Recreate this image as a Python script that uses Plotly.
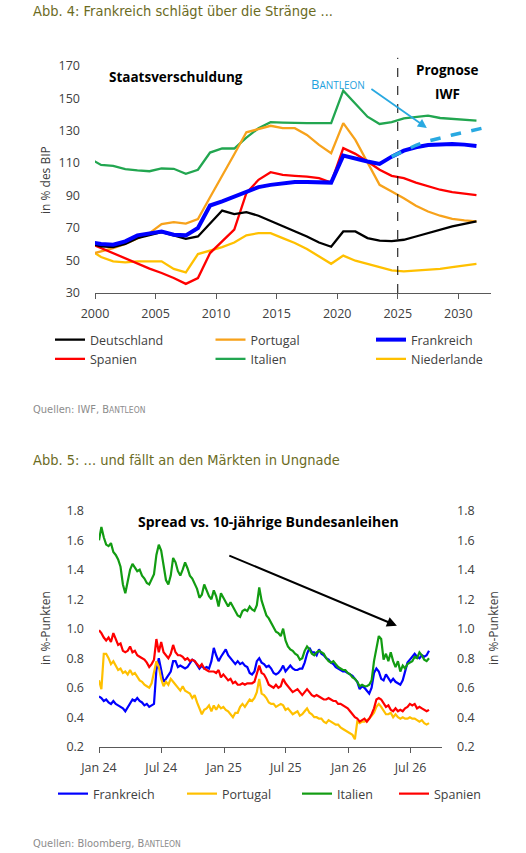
import plotly.graph_objects as go
import pandas as pd

# Seitengroesse in Pixeln, damit Texte und Achsen pixelgenau sitzen
B, H = 526, 853


def px(x):
    return x / B


def py(y):
    return 1 - y / H


FONT = "Open Sans"
HEAD = "Liberation Sans Narrow, DejaVu Sans Condensed, Open Sans"
GRAU = "#404040"

# ---------------- Abb. 4: Staatsverschuldung in % des BIP ----------------
jahre = list(range(1999, 2032))
deutschland = [60.7, 58.7, 58.3, 60.2, 63.8, 65.5, 67.5, 65.5, 63.4, 64.8, 73.1, 80.8, 78.6, 79.8,
               77.6, 74.5, 71.0, 68.0, 64.8, 61.1, 58.5, 67.9, 67.9, 63.8, 62.2, 62.0, 62.8, 64.8,
               66.9, 69.0, 71.0, 72.6, 74.1]
portugal = [53.6, 55.6, 57.7, 60.2, 63.8, 66.9, 72.5, 73.7, 72.7, 75.5, 89.0, 102.0, 115.5, 129.0,
            131.0, 133.0, 131.5, 131.5, 127.4, 121.2, 116.1, 134.6, 124.3, 110.0, 96.6, 92.5, 88.4,
            83.7, 80.2, 77.6, 75.7, 74.7, 74.1]
frankreich = [61.4, 60.2, 59.7, 61.8, 65.5, 66.9, 67.9, 65.9, 65.5, 70.0, 83.9, 86.4, 89.4, 92.5,
              95.2, 96.6, 97.7, 98.4, 98.4, 98.4, 98.0, 114.6, 112.6, 111.0, 109.5, 114.0, 117.7,
              119.8, 121.2, 121.8, 121.8, 121.4, 120.5]
spanien = [60.9, 57.7, 54.6, 51.1, 48.0, 45.0, 42.3, 39.2, 35.6, 39.2, 54.6, 61.8, 69.0, 91.5,
           99.7, 104.4, 102.8, 102.2, 101.7, 100.7, 98.0, 119.2, 115.7, 111.0, 105.9, 102.2, 100.7,
           98.0, 95.6, 93.6, 92.1, 91.1, 90.3]
italien = [113.1, 108.9, 108.3, 106.3, 105.5, 105.0, 106.7, 106.5, 103.4, 105.9, 116.5, 119.0,
           119.0, 125.7, 131.5, 135.2, 135.0, 134.6, 134.6, 134.6, 134.6, 154.6, 146.9, 138.6,
           134.1, 135.2, 137.6, 138.6, 139.2, 137.8, 137.2, 136.6, 136.2]
niederlande = [57.0, 52.2, 49.5, 48.9, 49.5, 49.7, 49.5, 44.8, 42.7, 54.0, 56.0, 58.3, 61.1, 65.5,
               66.9, 66.9, 63.8, 60.8, 57.1, 52.5, 48.0, 53.0, 49.9, 48.0, 46.0, 43.9, 43.3, 43.9,
               44.4, 44.9, 46.0, 47.0, 48.0]
# Bantleon-Prognose Frankreich
bantleon_jahre = list(range(2024, 2033))
bantleon_frankreich = [114.0, 117.8, 121.0, 123.6, 125.6, 127.3, 129.0, 130.7, 132.4]

# ---------------- Abb. 5: Spread vs. 10-jaehrige Bundesanleihen (Wochenwerte) ----------------
spread_fr = [0.54, 0.53, 0.51, 0.52, 0.50, 0.49, 0.51, 0.49, 0.48, 0.47, 0.46, 0.44, 0.47, 0.49,
             0.52, 0.51, 0.53, 0.51, 0.50, 0.48, 0.49, 0.47, 0.48, 0.49, 0.72, 0.80, 0.72, 0.64,
             0.66, 0.69, 0.71, 0.78, 0.78, 0.74, 0.75, 0.74, 0.73, 0.74, 0.77, 0.79, 0.78, 0.75,
             0.73, 0.75, 0.73, 0.74, 0.73, 0.78,
             0.87, 0.82, 0.78, 0.81, 0.84, 0.86, 0.82, 0.80, 0.78, 0.76, 0.78, 0.76, 0.77, 0.75,
             0.74, 0.70, 0.69, 0.71, 0.78, 0.80, 0.77, 0.76, 0.74, 0.75, 0.73, 0.70, 0.69, 0.70,
             0.72, 0.75, 0.71, 0.73, 0.75, 0.73, 0.72, 0.72, 0.73, 0.73, 0.77, 0.83, 0.87, 0.84,
             0.84, 0.82, 0.86, 0.83, 0.82, 0.80,
             0.79, 0.77, 0.76, 0.74, 0.73, 0.72, 0.71, 0.71, 0.70, 0.69, 0.68, 0.66, 0.64, 0.59,
             0.61, 0.60, 0.58, 0.56, 0.60, 0.70, 0.73, 0.71, 0.66, 0.65, 0.69, 0.66, 0.64, 0.66,
             0.64, 0.63, 0.62, 0.65, 0.72, 0.77, 0.79, 0.81, 0.83, 0.81, 0.80, 0.82, 0.81, 0.82,
             0.85]
spread_pt = [0.65, 0.59, 0.83, 0.83, 0.80, 0.76, 0.78, 0.75, 0.72, 0.73, 0.70, 0.71, 0.69, 0.72,
             0.69, 0.70, 0.67, 0.65, 0.64, 0.62, 0.61, 0.60, 0.63, 0.71, 0.78, 0.74, 0.66, 0.61,
             0.64, 0.62, 0.66, 0.64, 0.62, 0.60, 0.58, 0.61, 0.58, 0.57, 0.56, 0.53, 0.55, 0.50,
             0.46, 0.42, 0.45, 0.46, 0.48, 0.44,
             0.48, 0.45, 0.48, 0.46, 0.47, 0.45, 0.44, 0.42, 0.40, 0.43, 0.43, 0.47, 0.49, 0.47,
             0.50, 0.52, 0.51, 0.53, 0.57, 0.66, 0.56, 0.55, 0.53, 0.50, 0.49, 0.49, 0.47, 0.48,
             0.49, 0.48, 0.45, 0.46, 0.44, 0.42, 0.43, 0.44, 0.41, 0.42, 0.44, 0.46, 0.43, 0.42,
             0.40, 0.40, 0.39, 0.39, 0.37, 0.36,
             0.38, 0.37, 0.36, 0.35, 0.35, 0.33, 0.32, 0.31, 0.30, 0.29, 0.28, 0.25, 0.37, 0.36,
             0.37, 0.37, 0.38, 0.39, 0.41, 0.43, 0.47, 0.49, 0.47, 0.44, 0.42, 0.42, 0.43, 0.40,
             0.42, 0.40, 0.39, 0.40, 0.39, 0.39, 0.40, 0.39, 0.39, 0.38, 0.37, 0.38, 0.36, 0.35,
             0.36]
spread_it = [1.60, 1.69, 1.62, 1.57, 1.56, 1.58, 1.52, 1.50, 1.47, 1.42, 1.30, 1.24, 1.32, 1.40,
             1.44, 1.41, 1.39, 1.40, 1.36, 1.34, 1.31, 1.30, 1.33, 1.37, 1.50, 1.57, 1.53, 1.42,
             1.33, 1.30, 1.36, 1.48, 1.45, 1.39, 1.36, 1.40, 1.45, 1.41, 1.36, 1.34, 1.31, 1.27,
             1.21, 1.23, 1.30, 1.26, 1.22, 1.20,
             1.26, 1.22, 1.15, 1.24, 1.21, 1.17, 1.15, 1.18, 1.15, 1.12, 1.09, 1.08, 1.12, 1.13,
             1.12, 1.15, 1.13, 1.12, 1.16, 1.28, 1.19, 1.14, 1.09, 1.07, 1.04, 1.00, 0.98, 0.97,
             0.95, 1.00, 0.92, 0.88, 0.86, 0.85, 0.83, 0.82, 0.79, 0.80, 0.85, 0.88, 0.86, 0.83,
             0.82, 0.84, 0.85, 0.84, 0.83, 0.80,
             0.78, 0.77, 0.78, 0.76, 0.74, 0.73, 0.72, 0.72, 0.70, 0.69, 0.67, 0.66, 0.64, 0.61,
             0.62, 0.61, 0.61, 0.62, 0.65, 0.78, 0.88, 0.95, 0.93, 0.79, 0.83, 0.78, 0.84, 0.78,
             0.74, 0.78, 0.71, 0.75, 0.73, 0.76, 0.77, 0.78, 0.81, 0.80, 0.84, 0.82, 0.79, 0.78,
             0.80]
spread_es = [0.99, 0.97, 0.94, 0.92, 0.94, 0.91, 0.97, 0.93, 0.89, 0.90, 0.85, 0.84, 0.85, 0.88,
             0.84, 0.85, 0.82, 0.81, 0.80, 0.79, 0.77, 0.74, 0.76, 0.79, 0.93, 0.84, 0.91, 0.84,
             0.82, 0.80, 0.83, 0.89, 0.84, 0.82, 0.82, 0.81, 0.79, 0.80, 0.78, 0.79, 0.78, 0.76,
             0.74, 0.76, 0.73, 0.72, 0.71, 0.71,
             0.71, 0.70, 0.72, 0.67, 0.69, 0.67, 0.65, 0.66, 0.63, 0.64, 0.62, 0.62, 0.63, 0.62,
             0.63, 0.63, 0.63, 0.64, 0.69, 0.75, 0.70, 0.69, 0.66, 0.62, 0.61, 0.60, 0.62, 0.60,
             0.61, 0.66, 0.63, 0.61, 0.59, 0.57, 0.58, 0.59, 0.57, 0.55, 0.57, 0.59, 0.57, 0.55,
             0.54, 0.55, 0.54, 0.53, 0.52, 0.52,
             0.53, 0.52, 0.51, 0.51, 0.49, 0.49, 0.48, 0.47, 0.46, 0.44, 0.42, 0.40, 0.39, 0.37,
             0.38, 0.39, 0.37, 0.39, 0.42, 0.46, 0.52, 0.53, 0.52, 0.49, 0.47, 0.48, 0.45, 0.44,
             0.46, 0.44, 0.45, 0.44, 0.46, 0.47, 0.49, 0.48, 0.49, 0.46, 0.47, 0.46, 0.45, 0.44,
             0.45]
wochen = pd.date_range("2024-01-01", periods=len(spread_fr), freq="7D")

fig = go.Figure()

# Jahreswerte liegen jeweils in der Mitte des Jahres
x_jahre = [j + 0.5 for j in jahre]
oben = [
    ("Niederlande", niederlande, "#FFC000", 2.3, 6),
    ("Italien", italien, "#22A650", 2.3, 5),
    ("Portugal", portugal, "#F7A21B", 2.3, 2),
    ("Spanien", spanien, "#FF0000", 2.3, 4),
    ("Deutschland", deutschland, "#000000", 2.3, 1),
    ("Frankreich", frankreich, "#0000FF", 4, 3),
]
for name, werte, farbe, breite, rang in oben:
    fig.add_trace(go.Scatter(x=x_jahre, y=werte, name=name, mode="lines",
                             line=dict(color=farbe, width=breite), legendrank=rang,
                             xaxis="x", yaxis="y", legend="legend"))
fig.add_trace(go.Scatter(x=[j + 0.5 for j in bantleon_jahre], y=bantleon_frankreich,
                         mode="lines", line=dict(color="#29A9E1", width=3.5, dash="dash"),
                         showlegend=False, xaxis="x", yaxis="y"))

unten = [
    ("Frankreich", spread_fr, "#0000FF", 84, "y2"),
    ("Portugal", spread_pt, "#FFC000", 70, "y2"),
    ("Italien", spread_it, "#129C12", 52, "y2"),
    ("Spanien", spread_es, "#FF0000", 0, "y3"),
]
for name, werte, farbe, lw, achse in unten:
    fig.add_trace(go.Scatter(x=wochen, y=werte, name=name, mode="lines",
                             line=dict(color=farbe, width=2.2), legendwidth=lw or None,
                             xaxis="x2", yaxis=achse, legend="legend2"))

achsfont = dict(family=FONT, size=12.5, color=GRAU)
fig.update_layout(
    width=B, height=H, margin=dict(l=0, r=0, t=0, b=0, autoexpand=False),
    paper_bgcolor="white", plot_bgcolor="white",
    font=dict(family=FONT, color=GRAU),
    xaxis=dict(domain=[px(95), px(491)], range=[2000, 2032.7], tick0=2000, dtick=5,
               ticks="outside", ticklen=5, tickcolor="#595959", showline=True,
               linecolor="#595959", showgrid=False, zeroline=False, tickfont=achsfont,
               ticklabelstandoff=4, anchor="y"),
    yaxis=dict(domain=[py(293), py(57.6)], range=[30, 175], tick0=30, dtick=20,
               showgrid=False, zeroline=False, showline=False, tickfont=achsfont,
               ticklabelstandoff=14, anchor="x"),
    xaxis2=dict(domain=[px(99), px(442)], type="date", range=["2024-01-01", "2026-10-01"],
                tick0="2024-01-01", dtick="M6", tickformat="%b %y", ticks="outside",
                ticklen=5, tickcolor="#595959", showline=True, linecolor="#595959",
                showgrid=False, zeroline=False, tickfont=achsfont, ticklabelstandoff=4,
                anchor="y2"),
    yaxis2=dict(domain=[py(746.7), py(510.7)], range=[0.2, 1.8], tick0=0.2, dtick=0.2,
                tickformat=".1f", showgrid=False, zeroline=False, showline=False,
                tickfont=achsfont, ticklabelstandoff=14, anchor="x2"),
    yaxis3=dict(range=[0.2, 1.8], tick0=0.2, dtick=0.2, tickformat=".1f", overlaying="y2",
                side="right", showgrid=False, zeroline=False, showline=False,
                tickfont=achsfont, ticklabelstandoff=14, anchor="x2"),
    legend=dict(orientation="h", x=px(50), y=py(325), xanchor="left", yanchor="top",
                entrywidth=115.5, font=dict(family=FONT, size=12.5, color=GRAU),
                bgcolor="rgba(0,0,0,0)"),
    legend2=dict(orientation="h", x=px(53), y=py(779), xanchor="left", yanchor="top",
                 font=dict(family=FONT, size=12.5, color=GRAU), bgcolor="rgba(0,0,0,0)"),
    showlegend=True,
)

# Prognose-Trennlinie
fig.add_shape(type="line", xref="x", yref="y", x0=2025, x1=2025, y0=30, y1=175,
              line=dict(color="#000000", width=1, dash="dash"))


def text(t, x, y, size=12, color=GRAU, family=FONT, anchor="center", angle=0):
    fig.add_annotation(text=t, x=px(x), y=py(y), xref="paper", yref="paper",
                       xanchor=anchor, yanchor="middle", showarrow=False, textangle=angle,
                       font=dict(family=family, size=size, color=color))


klein = "<span style='font-size:8.5px'>ANTLEON</span>"
text("Abb. 4: Frankreich schlägt über die Stränge ...", 31, 11, 14.5, "#6B6B1E", HEAD, "left")
text("<b>Staatsverschuldung</b>", 176, 77, 13.5, "#000000")
text("B<span style='font-size:10px'>ANTLEON</span>", 338, 84, 13, "#1FA2DE")
text("<b>Prognose</b>", 447, 70, 13.5, "#000000")
text("<b>IWF</b>", 447, 94, 13.5, "#000000")
text("in % des BIP", 45, 180, 12, GRAU, FONT, "center", -90)
text("Quellen: IWF, B" + klein, 31, 409, 11, "#8C8C8C", HEAD, "left")

text("Abb. 5: ... und fällt an den Märkten in Ungnade", 31, 460, 14.5, "#6B6B1E", HEAD, "left")
text("<b>Spread vs. 10-jährige Bundesanleihen</b>", 268, 521, 14, "#000000")
text("in %-Punkten", 45, 628, 12, GRAU, FONT, "center", -90)
text("in %-Punkten", 493, 628, 12, GRAU, FONT, "center", -90)
text("Quellen: Bloomberg, B" + klein, 31, 843, 11, "#8C8C8C", HEAD, "left")

# Pfeile
fig.add_annotation(x=2027.4, y=131.7, ax=2022.7, ay=156.3, xref="x", yref="y", axref="x",
                   ayref="y", text="", showarrow=True, arrowhead=2, arrowsize=1,
                   arrowwidth=1.8, arrowcolor="#29A9E1")
fig.add_annotation(x="2026-05-22", y=1.02, ax="2025-01-12", ay=1.50, xref="x2", yref="y2",
                   axref="x2", ayref="y2", text="", showarrow=True, arrowhead=2,
                   arrowsize=1, arrowwidth=2, arrowcolor="#000000")

# Seitenrand des Browsers entfernen, damit die Grafik bei (0, 0) beginnt
fig.write_html("out.html", config={"displayModeBar": False},
               post_script="document.body.style.margin = '0px';")
